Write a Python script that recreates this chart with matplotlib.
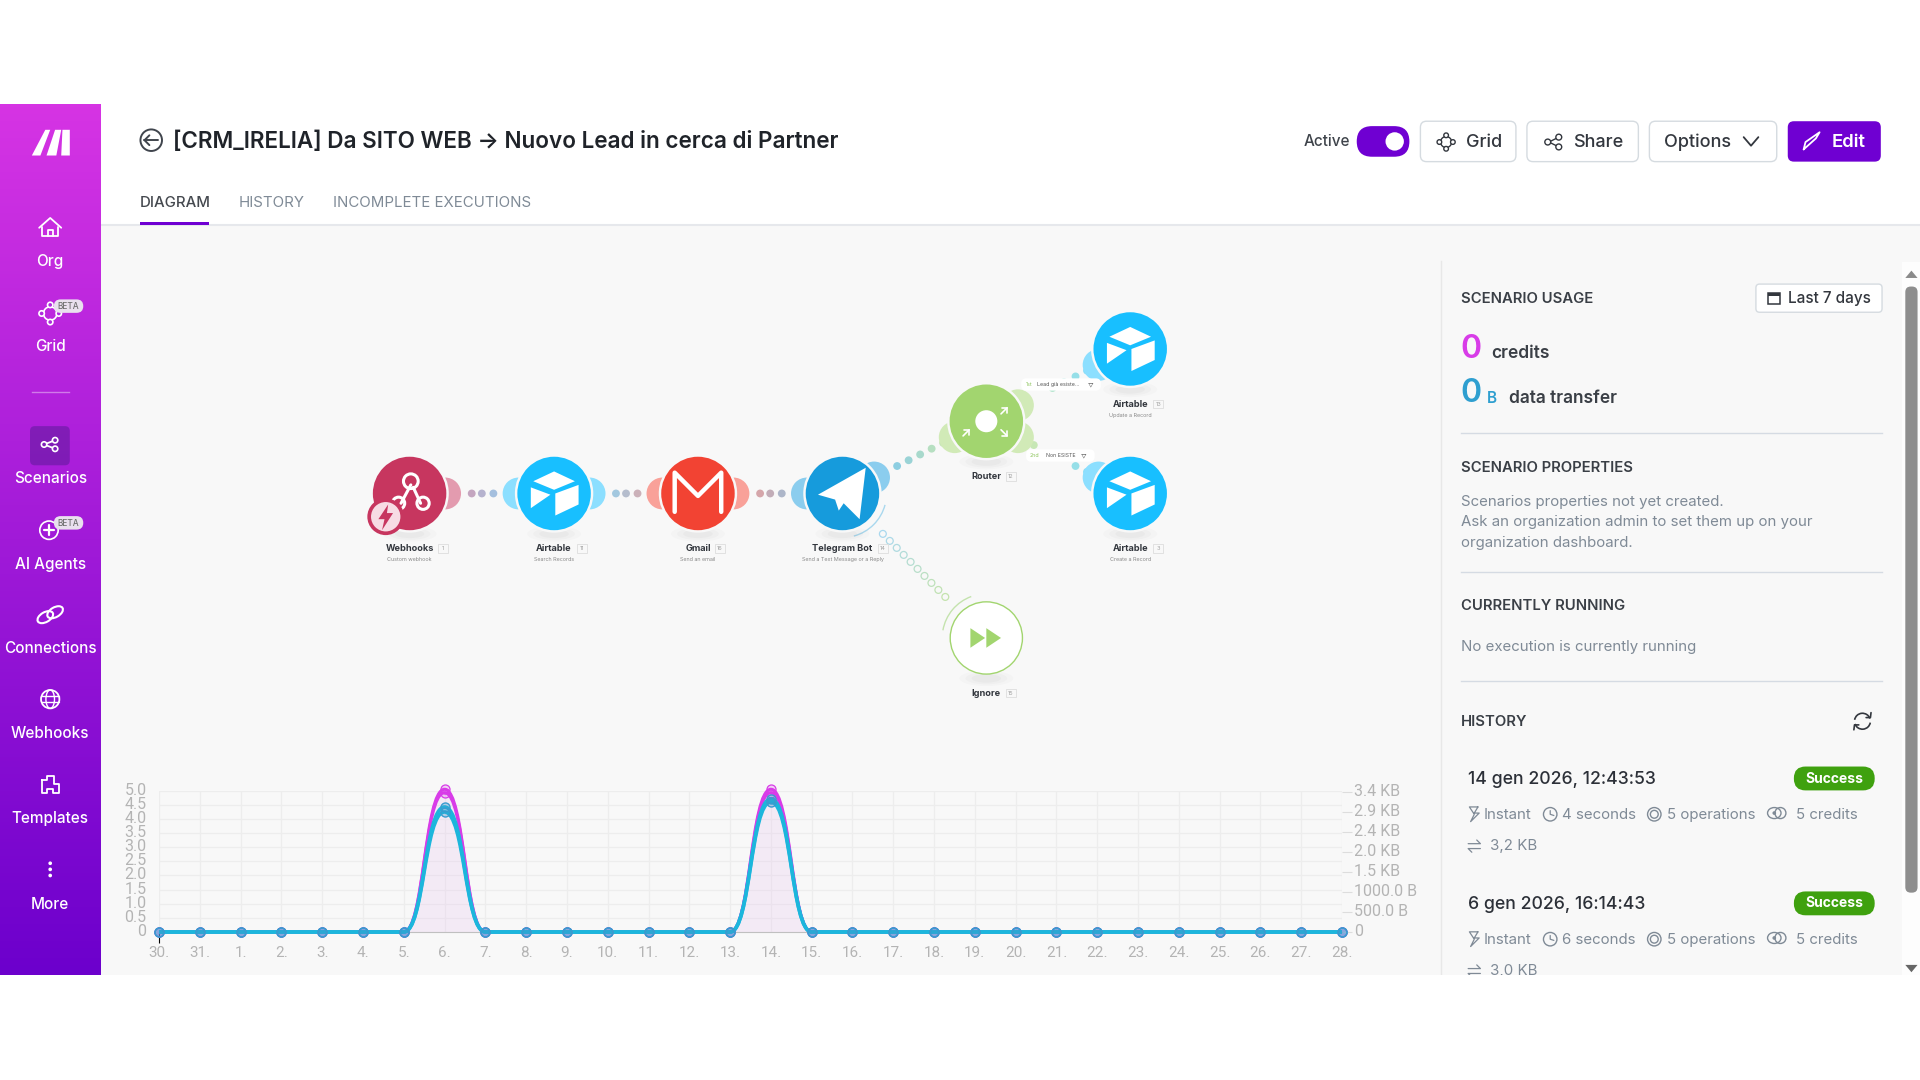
import numpy as np
import matplotlib
matplotlib.use("Agg")
import matplotlib.pyplot as plt
from matplotlib.patches import Circle, Ellipse, FancyBboxPatch, PathPatch, Polygon, Rectangle, Arc
from matplotlib.path import Path
from matplotlib.colors import to_rgb
from matplotlib.transforms import ScaledTranslation

plt.rcParams['font.family'] = ['Inter', 'DejaVu Sans']

# --- chart data ---
days = ['30.', '31.', '1.', '2.', '3.', '4.', '5.', '6.', '7.', '8.', '9.', '10.', '11.', '12.', '13.',
        '14.', '15.', '16.', '17.', '18.', '19.', '20.', '21.', '22.', '23.', '24.', '25.', '26.', '27.', '28.']
credits = [0, 0, 0, 0, 0, 0, 0, 5.05, 0, 0, 0, 0, 0, 0, 0, 5.05, 0, 0, 0, 0, 0, 0, 0, 0, 0, 0, 0, 0, 0, 0]
operations = [0, 0, 0, 0, 0, 0, 0, 4.93, 0, 0, 0, 0, 0, 0, 0, 4.93, 0, 0, 0, 0, 0, 0, 0, 0, 0, 0, 0, 0, 0, 0]
transfer_a = [0, 0, 0, 0, 0, 0, 0, 3125, 0, 0, 0, 0, 0, 0, 0, 3325, 0, 0, 0, 0, 0, 0, 0, 0, 0, 0, 0, 0, 0, 0]
transfer_b = [0, 0, 0, 0, 0, 0, 0, 3000, 0, 0, 0, 0, 0, 0, 0, 3250, 0, 0, 0, 0, 0, 0, 0, 0, 0, 0, 0, 0, 0, 0]
left_ticks = [0, 0.5, 1, 1.5, 2, 2.5, 3, 3.5, 4, 4.5, 5]
left_labels = ['0', '0.5', '1.0', '1.5', '2.0', '2.5', '3.0', '3.5', '4.0', '4.5', '5.0']
right_ticks = [0, 500, 1000, 1500, 2000, 2500, 3000, 3500]
right_labels = ['0', '500.0 B', '1000.0 B', '1.5 KB', '2.0 KB', '2.4 KB', '2.9 KB', '3.4 KB']

# --- texts of the page ---
nav_labels = ['Org', 'Grid', 'Scenarios', 'AI Agents', 'Connections', 'Webhooks', 'Templates', 'More']
tabs = ['DIAGRAM', 'HISTORY', 'INCOMPLETE EXECUTIONS']
title = '[CRM_IRELIA] Da SITO WEB → Nuovo Lead in cerca di Partner'
node_names = ['Webhooks', 'Airtable', 'Gmail', 'Telegram Bot', 'Router', 'Airtable', 'Airtable', 'Ignore']
node_ids = ['1', '11', '16', '14', '12', '13', '3', '15']
node_subs = ['Custom webhook', 'Search Records', 'Send an email', 'Send a Text Message or a Reply', '',
             'Update a Record', 'Create a Record', '']
history_dates = ['14 gen 2026, 12:43:53', '6 gen 2026, 16:14:43']
history_secs = ['4 seconds', '6 seconds']
history_sizes = ['3,2 KB', '3,0 KB']

INK = '#2c3038'
GRAY = '#7f8a96'
PURPLE = '#6f00d2'
BG = '#f8f8f8'
LINE = '#d5dbe3'

fig = plt.figure(figsize=(19.2, 10.8), dpi=100, facecolor='white')
ui = fig.add_axes([0, 0, 1, 1])
ui.set_xlim(0, 1568)
ui.set_ylim(882, 0)
ui.axis('off')


def txt(x, y, s, size=10, color=INK, weight='normal', ha='left', z=5, **kw):
    return ui.text(x, y + 0.8, s, fontsize=size, color=color, fontweight=weight, ha=ha, va='center', zorder=z, **kw)


def rbox(x0, y0, x1, y1, r=4, fc='white', ec='none', lw=1, z=3):
    p = FancyBboxPatch((x0, y0), x1 - x0, y1 - y0, boxstyle=f'round,pad=0,rounding_size={r}',
                       fc=fc, ec=ec, lw=lw, zorder=z)
    ui.add_patch(p)
    return p


def stroke(xs, ys, color='white', lw=1.3, z=6):
    ui.plot(xs, ys, color=color, lw=lw, zorder=z, solid_capstyle='round', solid_joinstyle='round')


def ring(x, y, r, color='white', lw=1.2, z=6, fc='none'):
    ui.add_patch(Circle((x, y), r, fc=fc, ec=color, lw=lw, zorder=z))


def mix(c1, c2, t):
    a, b = np.array(to_rgb(c1)), np.array(to_rgb(c2))
    return tuple(a + (b - a) * t)


# --- page background ---
ui.add_patch(Rectangle((82, 184), 1486, 612, fc=BG, ec='none', zorder=0))
ui.add_patch(Rectangle((1553, 214), 15, 582, fc='#fdfdfd', ec='none', zorder=0))
ui.plot([82, 1568], [184, 184], color='#e6e8ec', lw=1.5, zorder=1)
ui.plot([1177, 1177], [213, 796], color='#e8e8e8', lw=1, zorder=1)
# cut off the page under the viewport
ui.add_patch(Rectangle((0, 796), 1568, 86, fc='white', ec='none', zorder=20))

# --- sidebar ---
grad = np.linspace(0, 1, 256)[:, None, None]
top, bot = np.array(to_rgb('#d634e4')), np.array(to_rgb('#6c00cc'))
ui.imshow(top + (bot - top) * grad, extent=(0, 82, 796, 85), aspect='auto', zorder=1)
ui.set_xlim(0, 1568)
ui.set_ylim(882, 0)

for pts in ([(26, 127), (37, 106), (41, 106), (33, 127)], [(38, 127), (45, 106), (50, 106), (46, 127)],
            [(50, 127), (51, 106), (57, 106), (57, 127)]):
    ui.add_patch(Polygon(pts, fc='white', ec='none', zorder=5))

nav_y = [213, 282, 390, 460, 529, 598, 668, 738]
icon_y = [186, 256, 363, 433, 502, 571, 641, 710]
for lab, y in zip(nav_labels, nav_y):
    txt(41, y, lab, 11, 'white', 'medium', ha='center')
ui.plot([26, 56], [320, 320], color='#ffffff', alpha=0.4, lw=1, zorder=4)
rbox(24.5, 348, 57, 380, 4, fc='#5c1a9a', z=2).set_alpha(0.55)

# home
stroke([32, 41, 50], [186, 178, 186])
stroke([34.5, 34.5, 47.5, 47.5], [185, 193, 193, 185])
stroke([39, 39, 43, 43], [193, 188, 188, 193])
# grid
y = icon_y[1]
ring(41, y, 5.5)
for dx, dy in ((-7, 0), (7, 0), (0, -7), (0, 7)):
    ring(41 + dx, y + dy, 2.2, fc='#b02adf')
# scenarios
y = icon_y[2]
stroke([36, 45], [y, y - 3.5])
stroke([36, 45], [y, y + 3.5])
for dx, dy in ((-5, 0), (4, -3.5), (4, 3.5)):
    ring(41 + dx, y + dy, 2.2, fc='#7f20b8')
# agents
y = icon_y[3]
ring(40, y, 7.5)
stroke([36, 44], [y, y], lw=1.6)
stroke([40, 40], [y - 4, y + 4], lw=1.6)
# connections
y = icon_y[4]
ui.add_patch(Ellipse((37, y + 2), 14, 8, angle=-30, fc='none', ec='white', lw=1.5, zorder=6))
ui.add_patch(Ellipse((45, y - 2), 14, 8, angle=-30, fc='none', ec='white', lw=1.5, zorder=6))
# globe
y = icon_y[5]
ring(41, y, 7.5, lw=1.3)
ui.add_patch(Ellipse((41, y), 7, 15, fc='none', ec='white', lw=1, zorder=6))
stroke([34, 48], [y - 2.5, y - 2.5], lw=1)
stroke([34, 48], [y + 2.5, y + 2.5], lw=1)
# puzzle
y = icon_y[6]
stroke([34, 34, 38, 38, 43, 43, 48, 48, 44, 44, 38, 38, 34],
       [y - 4, y + 7, y + 7, y + 3, y + 3, y + 7, y + 7, y - 1, y - 1, y - 7, y - 7, y - 4, y - 4])
# more
for dy in (-5, 0, 5):
    ui.add_patch(Circle((41, icon_y[7] + dy), 1.5, fc='white', ec='none', zorder=6))
for y in (250, 427):
    rbox(44, y - 5.5, 68, y + 5.5, 5.5, fc='#e9e0ee', z=7)
    txt(56, y - 0.5, 'BETA', 6, '#707070', 'medium', ha='center', z=8)

# --- header ---
ring(123.5, 114.5, 8.8, color='#40454d', lw=1.4)
stroke([129, 118], [114.5, 114.5], '#40454d', 1.4)
stroke([122, 118, 122], [110.5, 114.5, 118.5], '#40454d', 1.4)
txt(141, 115, title, 16.2, '#1f2329', 'semibold')
for lab, x, c, w in zip(tabs, [114, 195, 272], ['#45494f', GRAY, GRAY], ['medium', 'normal', 'normal']):
    txt(x, 165, lab, 10.8, c, w)
ui.add_patch(Rectangle((114, 181), 57, 3, fc=PURPLE, ec='none', zorder=4))

txt(1065, 115, 'Active', 11, '#3f444b', 'medium')
rbox(1108, 103, 1151, 128, 12.5, fc=PURPLE)
ui.add_patch(Ellipse((1139, 115.5), 15, 15, fc='white', ec='none', zorder=4))
for x0, x1, lab, tx in ((1160, 1238, 'Grid', 1197), (1247, 1338, 'Share', 1285), (1347, 1451, 'Options', 1359)):
    rbox(x0, 99, x1, 132, 5, ec='#d5dbe0', lw=1)
    txt(tx, 115.5, lab, 13, '#33373e', 'medium')
ring(1181, 116, 4.5, '#33373e', 1)
for dx, dy in ((-5.5, 0), (5.5, 0), (0, -5.5), (0, 5.5)):
    ring(1181 + dx, 116 + dy, 1.9, '#33373e', 1, fc='white')
stroke([1265, 1273], [116, 112], '#33373e', 1)
stroke([1265, 1273], [116, 120], '#33373e', 1)
for dx, dy in ((1264, 116), (1273, 112), (1273, 120)):
    ring(dx, dy, 2.4, '#33373e', 1, fc='white')
stroke([1424, 1430, 1436], [112, 119, 112], '#33373e', 1.3)
rbox(1460, 99, 1536, 132, 5, fc=PURPLE)
txt(1510, 115.5, 'Edit', 13.4, 'white', 'semibold', ha='center')
stroke([1473, 1474.5, 1486, 1483, 1473], [122, 116, 108, 113, 122], 'white', 1.3)

# --- scenario diagram ---
centers = {0: (334.5, 403), 1: (452.5, 403), 2: (570, 403), 3: (688, 403), 4: (805.5, 344),
           5: (923, 285), 6: (923, 403), 7: (805.5, 521)}
colors = ['#c7365f', '#18bfff', '#f24333', '#169bdc', '#a2d56f', '#18bfff', '#18bfff', 'white']
ears = {0: [(1, 0)], 1: [(-1, 0), (1, 0)], 2: [(-1, 0), (1, 0)], 3: [(-1, 0), (0.89, -0.45)],
        4: [(-0.89, 0.45), (0.89, -0.45), (0.89, 0.45)], 5: [(-0.89, 0.45)], 6: [(-0.89, -0.45)]}

# dotted links
links = [(0, 1, (0.43, 0.5, 0.58)), (1, 2, (0.43, 0.5, 0.58)), (2, 3, (0.43, 0.5, 0.58)),
         (3, 4, (0.38, 0.46, 0.54, 0.62, 0.7)), (4, 5, (0.46, 0.54, 0.62, 0.7)), (4, 6, (0.33, 0.62, 0.7))]
for a, b, fracs in links:
    for f in fracs:
        x = centers[a][0] + (centers[b][0] - centers[a][0]) * f
        y = centers[a][1] + (centers[b][1] - centers[a][1]) * f
        c = mix(mix(colors[a], colors[b], (f - 0.3) / 0.45), 'white', 0.45)
        ui.add_patch(Circle((x, y), 3.2, fc=c, ec='none', zorder=2))
for f in np.linspace(0, 1, 10):
    c = mix('#a9d8ee', '#c4e3ad', f)
    ring(721 + 51 * f, 436 + 51.5 * f, 2.8, c, 0.9, z=2)
ui.add_patch(Arc((688, 403), 72, 72, angle=0, theta1=15, theta2=75, ec='#a9d8ee', lw=1, zorder=2))
ui.add_patch(Arc((805.5, 521), 72, 72, angle=0, theta1=190, theta2=250, ec='#c4e3ad', lw=1, zorder=2))

for i, (cx, cy) in centers.items():
    # soft shadow under the node
    for w, a in ((44, 0.03), (34, 0.04), (24, 0.05)):
        ui.add_patch(Ellipse((cx, cy + 33), w, w / 3.5, fc='#808080', ec='none', alpha=a, zorder=2))
    for dx, dy in ears.get(i, []):
        ui.add_patch(Circle((cx + dx * 29, cy + dy * 29), 13, fc=mix(colors[i], 'white', 0.5), ec='none', zorder=2.2))
    if i in ears:
        ui.add_patch(Circle((cx, cy), 32, fc=BG, ec='none', zorder=2.3))
    if i == 7:
        ui.add_patch(Circle((cx, cy), 29.5, fc='white', ec='#a2d56f', lw=1, zorder=3))
    else:
        ui.add_patch(Circle((cx, cy), 30, fc=colors[i], ec='none', zorder=3))
    label_y = cy + 45
    txt(cx, label_y - 0.5, node_names[i], 6.6, '#33373e', 'bold', ha='center')
    offs = {'Webhooks': 27, 'Airtable': 23, 'Gmail': 18, 'Telegram Bot': 33, 'Router': 20, 'Ignore': 20}
    ox = cx + offs[node_names[i]]
    ui.add_patch(Rectangle((ox - 4, label_y - 3.5), 8, 7, fc='none', ec='#dddddd', lw=0.6, zorder=4))
    txt(ox, label_y - 0.5, node_ids[i], 4, '#a0a0a0', ha='center')
    if node_subs[i]:
        txt(cx, label_y + 8.5, node_subs[i], 3.9, '#8a8a8a', ha='center')


def airtable_icon(cx, cy):
    ui.add_patch(Polygon([(cx - 17, cy - 10), (cx + 0, cy - 18), (cx + 17, cy - 10), (cx + 0, cy - 3)], fc='white', ec='none', zorder=5))
    ui.add_patch(Polygon([(cx - 21 + 2, cy - 5), (cx - 3, cy + 1), (cx - 19, cy + 12)], fc='white', ec='none', zorder=5))
    ui.add_patch(Polygon([(cx + 1, cy + 0), (cx + 20, cy - 7), (cx + 20, cy + 9), (cx + 1, cy + 18)], fc='white', ec='none', zorder=5))


for i in (1, 5, 6):
    airtable_icon(*centers[i])

cx, cy = centers[2]
stroke([cx - 19, cx - 19, cx, cx + 19, cx + 19], [cy + 15, cy - 17, cy + 2, cy - 17, cy + 15], lw=3.2)

cx, cy = centers[3]
ui.add_patch(Polygon([(cx - 20, cy + 1), (cx + 19, cy - 21), (cx + 14, cy + 21), (cx + 1, cy + 8), (cx - 3, cy + 14), (cx - 6, cy + 5)],
                     fc='white', ec='none', zorder=5))

cx, cy = centers[4]
ui.add_patch(Circle((cx, cy), 9, fc='white', ec='none', zorder=5))
# small router arrows
for x0, y0, x1, y1 in ((-19, 12, -14, 7), (12, -6, 17, -11), (12, 7, 17, 12)):
    stroke([cx + x0, cx + x1], [cy + y0, cy + y1], lw=1.2)
    stroke([cx + x1 - 4, cx + x1, cx + x1], [cy + y1, cy + y1, cy + y1 + (4 if y1 < y0 else -4)], lw=1.2)

cx, cy = centers[7]
ui.add_patch(Polygon([(cx - 13, cy - 8), (cx - 1, cy), (cx - 13, cy + 8)], fc='#a2d56f', ec='none', zorder=5))
ui.add_patch(Polygon([(cx, cy - 8), (cx + 12, cy), (cx, cy + 8)], fc='#a2d56f', ec='none', zorder=5))

cx, cy = centers[0]
ring(cx + 1, cy - 10, 6, lw=2.2)
ring(cx - 9, cy + 8, 5, lw=2.2)
ring(cx + 11, cy + 8, 5, lw=2.2)
stroke([cx + 1, cx - 7], [cy - 7, cy + 8], lw=2.2)
stroke([cx + 3, cx + 9], [cy - 5, cy + 8], lw=2.2)
ui.add_patch(Circle((315, 422), 15, fc='#c7365f', ec='none', zorder=6))
ui.add_patch(Circle((315, 422), 12, fc='#f7dce4', ec='none', zorder=6))
ui.add_patch(Polygon([(317, 412), (309, 424), (314, 424), (312, 433), (321, 419), (316, 419)], fc='#c7365f', ec='none', zorder=7))

# filter labels
rbox(834, 309, 899, 319, 4, fc='white', z=6)
txt(838, 313.5, '1st', 3.8, '#8cc45c', z=7)
txt(847, 313.5, 'Lead già esiste...', 3.8, '#555555', z=7)
txt(891, 313.5, '▽', 4, '#555555', ha='center', z=7)
rbox(838, 367, 894, 377, 4, fc='white', z=6)
txt(841, 371.5, '2nd', 3.8, '#8cc45c', z=7)
txt(854, 371.5, 'Non ESISTE', 3.8, '#555555', z=7)
txt(885, 371.5, '▽', 4, '#555555', ha='center', z=7)

# --- right panel ---
txt(1193, 243, 'SCENARIO USAGE', 10.7, '#3a3f46', 'semibold')
rbox(1434, 232, 1537, 255, 3, ec='#d5dbe0')
ui.add_patch(Rectangle((1444, 239), 10, 9, fc='none', ec='#33373e', lw=1.1, zorder=5))
ui.add_patch(Rectangle((1444, 239), 10, 2.5, fc='#33373e', ec='none', zorder=5))
txt(1460, 243, 'Last 7 days', 11, '#33373e', 'medium')
txt(1193, 284.5, '0', 23, '#d83ce8', 'semibold')
txt(1218, 287.5, 'credits', 12.5, '#3a3f46', 'semibold')
txt(1193, 320.5, '0', 23, '#2f9fd0', 'semibold')
txt(1214, 324.5, 'B', 11, '#2f9fd0', 'semibold')
txt(1232, 324.5, 'data transfer', 12.5, '#3a3f46', 'semibold')
for y in (354, 467, 556):
    ui.plot([1193, 1537], [y, y], color=LINE, lw=1, zorder=2)
txt(1193, 381, 'SCENARIO PROPERTIES', 10.7, '#3a3f46', 'semibold')
txt(1193, 409.5, 'Scenarios properties not yet created.', 10.8, GRAY)
txt(1193, 425.5, 'Ask an organization admin to set them up on your', 10.8, GRAY)
txt(1193, 442.5, 'organization dashboard.', 10.8, GRAY)
txt(1193, 494.5, 'CURRENTLY RUNNING', 10.7, '#3a3f46', 'semibold')
txt(1193, 527.5, 'No execution is currently running', 10.8, GRAY)
txt(1193, 589, 'HISTORY', 10.7, '#3a3f46', 'semibold')
ui.add_patch(Arc((1521, 589), 13, 13, theta1=190, theta2=340, ec='#33373e', lw=1.2, zorder=5))
ui.add_patch(Arc((1521, 589), 13, 13, theta1=10, theta2=160, ec='#33373e', lw=1.2, zorder=5))
stroke([1524, 1527.5, 1528], [586, 586, 582], '#33373e', 1.2)
stroke([1518, 1514.5, 1514], [592, 592, 596], '#33373e', 1.2)

for date, secs, size, y in zip(history_dates, history_secs, history_sizes, (636, 738)):
    txt(1199, y - 0.5, date, 12.7, '#2c3038', 'medium')
    rbox(1465, y - 10, 1531, y + 9.5, 9.5, fc='#3fa10f')
    txt(1498, y - 1, 'Success', 10, 'white', 'bold', ha='center')
    r = y + 29
    stroke([1207, 1200, 1204, 1201, 1208, 1204, 1207], [r - 6, r - 6, r, r + 6, r - 1, r - 1, r - 6], GRAY, 0.9)
    txt(1212, r - 0.5, 'Instant', 10.8, GRAY)
    ring(1266, r, 5.5, GRAY, 1)
    stroke([1266, 1266, 1269], [r - 3, r, r + 1], GRAY, 0.9)
    txt(1276, r - 0.5, secs, 10.8, GRAY)
    ring(1351, r, 3.2, GRAY, 1)
    ring(1351, r, 5.5, GRAY, 1)
    txt(1361, r - 0.5, '5 operations', 10.8, GRAY)
    ui.add_patch(Ellipse((1449, r - 1), 11, 9, fc='none', ec=GRAY, lw=1, zorder=5))
    ui.add_patch(Ellipse((1454, r - 1), 9, 9, fc='none', ec=GRAY, lw=1, zorder=5))
    ui.add_patch(Circle((1449, r - 1), 1.5, fc=GRAY, ec='none', zorder=5))
    txt(1467, r - 0.5, '5 credits', 10.8, GRAY)
    r = y + 55
    stroke([1199, 1209, 1206], [r - 2, r - 2, r - 5], GRAY, 0.9)
    stroke([1209, 1199, 1202], [r + 2, r + 2, r + 5], GRAY, 0.9)
    txt(1217, r - 0.5, size, 10.8, GRAY)

# scrollbar
rbox(1556, 234, 1566, 729, 4.5, fc='#8e8e8e')
ui.add_patch(Polygon([(1556, 227), (1561, 221), (1566, 227)], fc='#8a8a8a', ec='none', zorder=4))
ui.add_patch(Polygon([(1556, 788), (1561, 794), (1566, 788)], fc='#666666', ec='none', zorder=4))

# --- usage chart ---
ax = fig.add_axes([159 / 1920, 1 - 932 / 1080, 1183 / 1920, 141.3 / 1080], zorder=3)
ax.patch.set_alpha(0)
x = np.arange(len(days))
nudge = ScaledTranslation(0, 2 / 100, fig.dpi_scale_trans)  # labels sit a bit above their gridline


def day_spline(xs, ys):
    # day to day bezier segments with flat tangents on the day values
    verts = [(xs[0], ys[0])]
    codes = [Path.MOVETO]
    for x0, y0, x1, y1 in zip(xs[:-1], ys[:-1], xs[1:], ys[1:]):
        mid = (x0 + x1) / 2
        verts += [(mid, y0), (mid, y1), (x1, y1)]
        codes += [Path.CURVE4] * 3
    return Path(verts, codes)


def closed_spline(xs, ys):
    p = day_spline(xs, ys)
    verts = list(p.vertices) + [(xs[-1], 0), (xs[0], 0), (xs[0], ys[0])]
    codes = list(p.codes) + [Path.LINETO, Path.LINETO, Path.CLOSEPOLY]
    return Path(verts, codes)


ax.add_patch(PathPatch(closed_spline(x, credits), fc='#e9c8f0', alpha=0.28, ec='none', zorder=1, clip_on=False))
ax.add_patch(PathPatch(day_spline(x, credits), fc='none', ec='#d83ce8', lw=2.2, zorder=2, clip_on=False))
ax.add_patch(PathPatch(day_spline(x, operations), fc='none', ec='#d83ce8', lw=2.2, zorder=2, clip_on=False))
for s in (credits, operations):
    ax.plot(x, s, 'o', ms=6.5, mfc='#d83ce833', mec='#d83ce8', mew=0.9, zorder=3, clip_on=False)

ax.set_xlim(0, len(days) - 1)
ax.set_ylim(0, 5)
ax.set_xticks(x)
ax.set_xticklabels(days)
ax.set_yticks(left_ticks)
ax.set_yticklabels(left_labels)
ax.grid(True, color='#ededed', lw=0.9)
ax.set_axisbelow(True)
for s in ('top', 'left', 'right'):
    ax.spines[s].set_visible(False)
ax.spines['bottom'].set_color('#c0c0c0')
ax.tick_params(axis='x', length=0, pad=10, labelsize=11, labelcolor='#b4b4b4')
ax.tick_params(axis='y', length=0, pad=9, labelsize=11.5, labelcolor='#b4b4b4')
first = ax.xaxis.get_major_ticks()[0]
first.tick1line.set_markersize(8)
first.tick1line.set_color('#c0c0c0')
for lab in ax.get_xticklabels():
    lab.set_fontfamily('Roboto')
for lab in ax.get_yticklabels():
    lab.set_fontfamily('Roboto')
    lab.set_transform(lab.get_transform() + nudge)

ax2 = ax.twinx()
ax2.patch.set_alpha(0)
for s in ax2.spines.values():
    s.set_visible(False)
ax2.add_patch(PathPatch(day_spline(x, transfer_b), fc='none', ec='#1cb6dc', lw=2.6, zorder=2, clip_on=False))
ax2.add_patch(PathPatch(day_spline(x, transfer_a), fc='none', ec='#1cb6dc', lw=2.6, zorder=2, clip_on=False))
for s in (transfer_a, transfer_b):
    ax2.plot(x, s, 'o', ms=6.5, mfc='#3a9bcf55', mec='#3a9bcf', mew=1, zorder=3, clip_on=False)
ax2.set_ylim(0, 3532)
ax2.set_yticks(right_ticks)
ax2.set_yticklabels(right_labels)
ax2.tick_params(axis='y', length=7, width=0.8, color='#dddddd', pad=1.5, labelsize=11.5, labelcolor='#b4b4b4')
for lab in ax2.get_yticklabels():
    lab.set_fontfamily('Roboto')
    lab.set_transform(lab.get_transform() + nudge)

fig.savefig('out.png', dpi=100, facecolor='white')
